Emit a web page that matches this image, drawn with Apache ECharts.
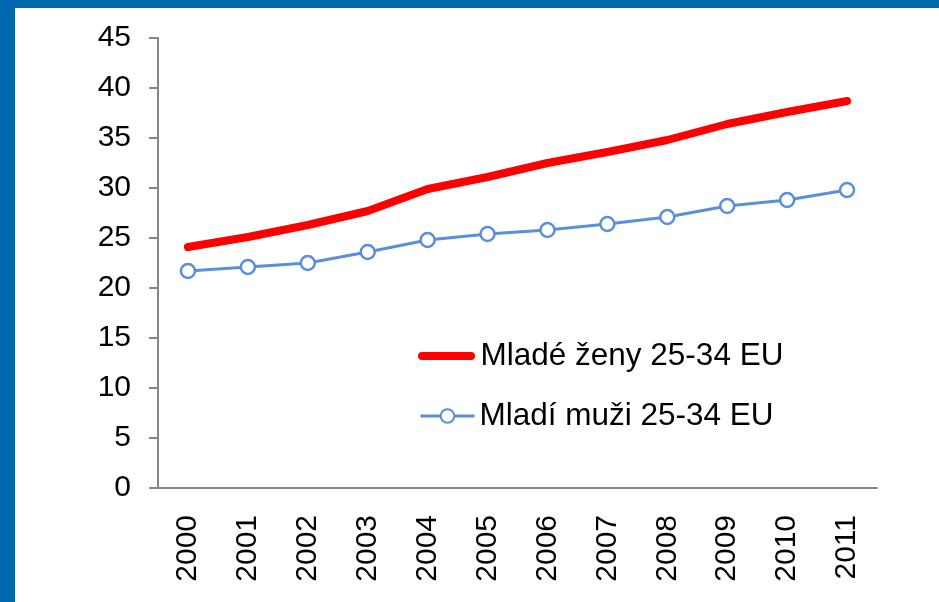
<!DOCTYPE html>
<html>
<head>
<meta charset="utf-8">
<script src="https://cdn.jsdelivr.net/npm/echarts@6/dist/echarts.min.js"></script>
<style>
html,body{margin:0;padding:0;background:#fff;}
#wrap{position:absolute;left:0;top:0;width:924px;height:594px;border-top:8px solid #0069AE;border-left:15px solid #0069AE;background:#fff;}
#chart{width:924px;height:594px;}
</style>
</head>
<body>
<div id="wrap"><div id="chart"></div></div>
<script>
const years = ['2000','2001','2002','2003','2004','2005','2006','2007','2008','2009','2010','2011'];
const women = [24.1, 25.1, 26.3, 27.7, 29.9, 31.1, 32.5, 33.6, 34.8, 36.4, 37.6, 38.7];
const men = [21.7, 22.1, 22.5, 23.6, 24.8, 25.4, 25.8, 26.4, 27.1, 28.2, 28.8, 29.8];
const yTicks = {min: 0, max: 45, interval: 5};
const nameWomen = 'Mladé ženy 25-34 EU';
const nameMen = 'Mladí muži 25-34 EU';

const font = '"Liberation Sans", Arial, sans-serif';
const blue = '#5B8FD9';
const chart = echarts.init(document.getElementById('chart'), null, {renderer: 'canvas'});
chart.setOption({
  animation: false,
  grid: {left: 143, top: 30, right: 62, bottom: 114, containLabel: false},
  legend: [
    {data: [{name: nameWomen, icon: 'path://M4,0 L53,0 A4,4 0 0 1 53,8 L4,8 A4,4 0 0 1 4,0 Z'}],
     left: 403, top: 332, padding: 0, orient: 'vertical', itemWidth: 58, itemHeight: 8, itemGap: 0,
     itemStyle: {color: '#FF0000'},
     textStyle: {fontFamily: font, fontSize: 31.5, color: '#000'}},
    {data: [nameMen], left: 404, top: 392, padding: 0, orient: 'vertical', itemWidth: 54, itemHeight: 17, itemGap: 0,
     lineStyle: {width: 3, color: blue},
     itemStyle: {color: '#fff', borderColor: blue, borderWidth: 2},
     textStyle: {fontFamily: font, fontSize: 31.5, color: '#000'}}
  ],
  xAxis: {
    type: 'category', data: years, boundaryGap: true,
    axisLine: {lineStyle: {color: '#868686', width: 2}},
    axisTick: {length: 9, lineStyle: {color: '#868686', width: 2}},
    axisLabel: {rotate: 90, margin: 27, fontFamily: font, fontSize: 30, color: '#000', interval: 0}
  },
  yAxis: {
    type: 'value', min: yTicks.min, max: yTicks.max, interval: yTicks.interval,
    splitLine: {show: false},
    axisLine: {show: true, lineStyle: {color: '#868686', width: 2}},
    axisTick: {show: true, length: 9, lineStyle: {color: '#868686', width: 2}},
    axisLabel: {margin: 27, fontFamily: font, fontSize: 30, color: '#000'}
  },
  series: [
    {name: nameWomen, type: 'line', data: women, symbol: 'none', smooth: false,
     lineStyle: {color: '#FF0000', width: 8, cap: 'round', join: 'round'}, itemStyle: {color: '#FF0000'}},
    {name: nameMen, type: 'line', data: men, symbol: 'circle', symbolSize: 14, showSymbol: true,
     lineStyle: {color: blue, width: 3}, itemStyle: {color: '#fff', borderColor: blue, borderWidth: 2.5}}
  ]
});
</script>
</body>
</html>
